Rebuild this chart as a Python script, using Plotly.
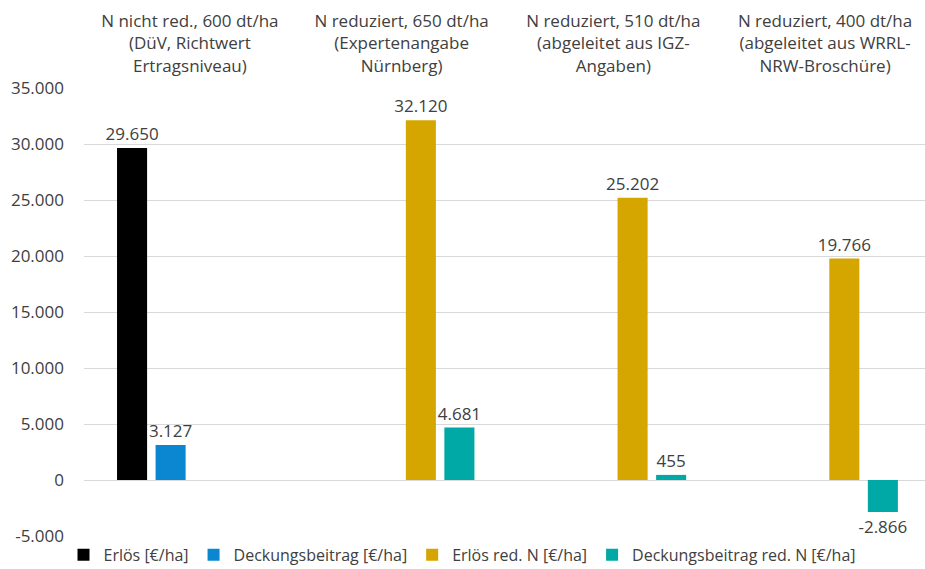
import plotly.graph_objects as go

# Szenarien (Kategorien) und Werte je Reihe in €/ha
categories = [
    "N nicht red., 600 dt/ha<br>(DüV, Richtwert<br>Ertragsniveau)",
    "N reduziert, 650 dt/ha<br>(Expertenangabe<br>Nürnberg)",
    "N reduziert, 510 dt/ha<br>(abgeleitet aus IGZ-<br>Angaben)",
    "N reduziert, 400 dt/ha<br>(abgeleitet aus WRRL-<br>NRW-Broschüre)",
]
erloes = [29650, None, None, None]
deckungsbeitrag = [3127, None, None, None]
erloes_red_n = [None, 32120, 25202, 19766]
deckungsbeitrag_red_n = [None, 4681, 455, -2866]

series_names = [
    "Erlös [€/ha]",
    "Deckungsbeitrag [€/ha]",
    "Erlös red. N [€/ha]",
    "Deckungsbeitrag red. N [€/ha]",
]
series_values = [erloes, deckungsbeitrag, erloes_red_n, deckungsbeitrag_red_n]
series_colors = ["#000000", "#0B87D2", "#D6A600", "#00A9A6"]

y_tickvals = [-5000, 0, 5000, 10000, 15000, 20000, 25000, 30000, 35000]
y_ticktext = ["-5.000", "0", "5.000", "10.000", "15.000", "20.000", "25.000", "30.000", "35.000"]

FONT = "Open Sans, Segoe UI, sans-serif"
TEXT_COLOR = "#404040"
FS = 17


def de_label(v):
    return "" if v is None else f"{v:,}".replace(",", ".")


fig = go.Figure()
for name, vals, color in zip(series_names, series_values, series_colors):
    fig.add_trace(go.Bar(
        name=name,
        x=categories,
        y=vals,
        marker=dict(color=color, line=dict(width=0)),
        text=[de_label(v) for v in vals],
        textposition="outside",
        constraintext="none",
        textfont=dict(family=FONT, size=FS, color=TEXT_COLOR),
        cliponaxis=False,
    ))

fig.update_layout(
    width=925,
    height=569,
    margin=dict(l=84, r=0, t=88, b=33, autoexpand=False),
    paper_bgcolor="white",
    plot_bgcolor="white",
    barmode="group",
    bargap=0.272,
    bargroupgap=0.22,
    font=dict(family=FONT, size=FS, color=TEXT_COLOR),
    showlegend=True,
    legend=dict(
        orientation="h",
        x=0.5,
        xref="container",
        xanchor="center",
        yref="paper",
        y=-0.042,
        yanchor="middle",
        bgcolor="rgba(0,0,0,0)",
        font=dict(family=FONT, size=16, color=TEXT_COLOR),
        itemwidth=30,
        traceorder="normal",
    ),
    xaxis=dict(
        side="top",
        range=[-0.5, 3.472],
        showgrid=False,
        showline=False,
        ticks="",
        automargin=False,
        ticklabelstandoff=12,
        tickfont=dict(family=FONT, size=FS, color=TEXT_COLOR),
    ),
    yaxis=dict(
        range=[-5000, 35000],
        tickvals=y_tickvals,
        ticktext=y_ticktext,
        showgrid=True,
        gridcolor="#D9D9D9",
        gridwidth=1,
        zeroline=True,
        zerolinecolor="#D9D9D9",
        zerolinewidth=1,
        showline=False,
        ticks="",
        automargin=False,
        ticklabelstandoff=19,
        tickfont=dict(family=FONT, size=FS, color=TEXT_COLOR),
    ),
)

fig.write_html("out.html")
